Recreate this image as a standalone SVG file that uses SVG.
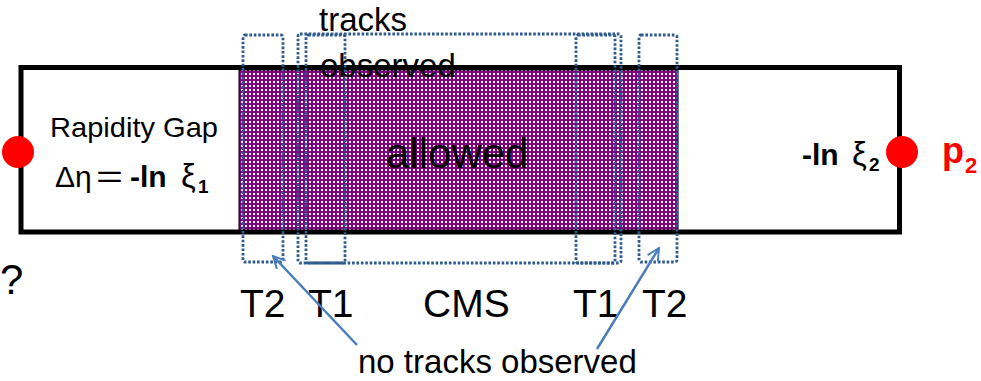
<svg xmlns="http://www.w3.org/2000/svg" width="981" height="381" viewBox="0 0 981 381">
<style>
text{font-family:"Liberation Sans",Arial,sans-serif;fill:#000}
.det{fill:none;stroke:#2E5A8E;stroke-width:2.8;stroke-dasharray:2.6 1.8}
.arr{fill:none;stroke:#4A7EBB;stroke-width:2.5;marker-end:url(#ah)}
.lbl{font-size:39px}
.b{font-weight:bold}
.red{fill:#FF0000}
</style>
<defs>
<pattern id="dots" width="4" height="4" patternUnits="userSpaceOnUse">
<rect width="4" height="4" fill="#800080"/>
<rect x="1" y="1" width="2" height="2" fill="#fff"/>
</pattern>
<marker id="ah" viewBox="0 0 10 10" refX="9" refY="5" markerWidth="6" markerHeight="6" orient="auto" markerUnits="strokeWidth">
<path d="M1,1 L9,5 L1,9" fill="none" stroke="#4A7EBB" stroke-width="1.3"/>
</marker>
</defs>
<rect width="981" height="381" fill="#fff"/>
<g id="detector">
<rect x="21" y="67.5" width="878.5" height="164.5" fill="#fff" stroke="#000" stroke-width="5"/>
<rect x="239" y="70" width="439" height="160" fill="url(#dots)" stroke="#000" stroke-width="1"/>
</g>
<g id="gap-left">
<text x="50" y="137" font-size="28" textLength="168" lengthAdjust="spacingAndGlyphs">Rapidity Gap</text>
<text x="55" y="187" font-size="30">Δη</text>
<text x="96" y="187" font-size="32" textLength="27" lengthAdjust="spacingAndGlyphs">=</text>
<text x="130" y="187" font-size="30" class="b">-ln</text>
<text x="181" y="187" font-size="33">ξ</text>
<text x="198" y="193" font-size="19" class="b">1</text>
</g>
<g id="gap-right">
<text x="802" y="165" font-size="30" class="b">-ln</text>
<text x="852" y="165" font-size="33">ξ</text>
<text x="869" y="171" font-size="19" class="b">2</text>
</g>
<g id="allowed">
<text x="386" y="168" font-size="42">allowed</text>
</g>
<g id="proton1">
<circle cx="18" cy="152" r="16" fill="#FF0000"/>
<text x="0" y="294" font-size="42">?</text>
</g>
<g id="proton2">
<circle cx="902" cy="152" r="16" fill="#FF0000"/>
<text x="942" y="163" font-size="36" class="b red">p</text>
<text x="965" y="173" font-size="22" class="b red">2</text>
</g>
<g id="T2-left"><rect class="det" x="243" y="35" width="40" height="227" rx="2"/><text class="lbl" x="240" y="317">T2</text></g>
<g id="CMS"><rect class="det" x="298" y="34" width="323" height="229" rx="2"/><text class="lbl" x="423" y="317">CMS</text></g>
<g id="T1-left"><rect class="det" x="306" y="35" width="39" height="228" rx="2"/><text class="lbl" x="308" y="317">T1</text></g>
<g id="T1-right"><rect class="det" x="576" y="35" width="39" height="228" rx="2"/><text class="lbl" x="573" y="317">T1</text></g>
<g id="T2-right"><rect class="det" x="639" y="35" width="38" height="227" rx="2"/><text class="lbl" x="642" y="317">T2</text></g>
<g id="tracks-observed">
<text x="319" y="31" font-size="33">tracks</text>
<text x="320" y="77" font-size="33">observed</text>
</g>
<g id="no-tracks">
<text x="358" y="373" font-size="33">no tracks observed</text>
</g>
<g id="connectors">
<line class="arr" x1="357" y1="345" x2="273" y2="256"/>
<line class="arr" x1="597" y1="349" x2="659" y2="248"/>
</g>
</svg>
